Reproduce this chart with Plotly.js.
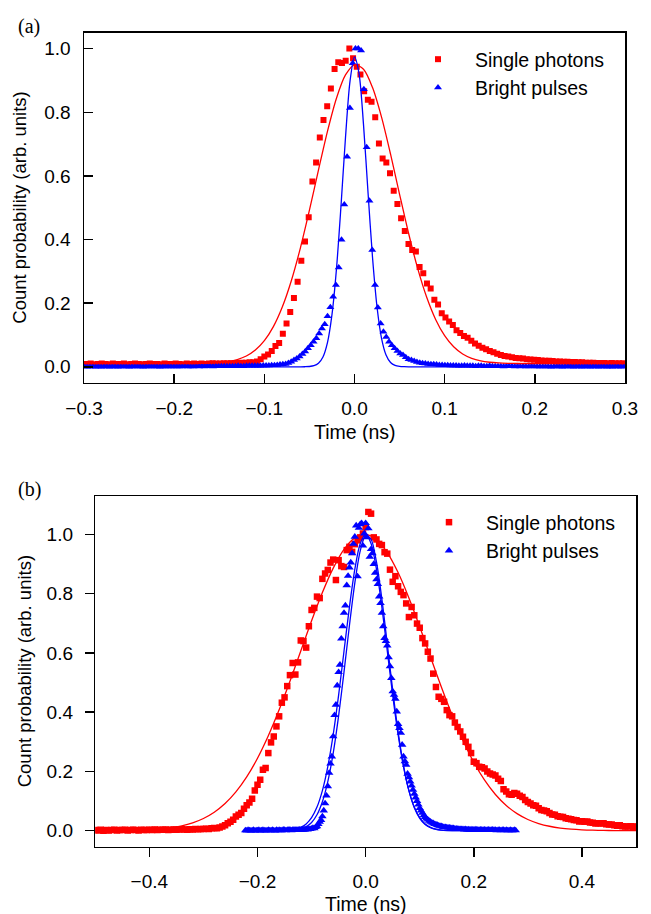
<!DOCTYPE html>
<html>
<head>
<meta charset="utf-8">
<script src="https://cdn.plot.ly/plotly-3.0.1.min.js"></script>
<style>html,body{margin:0;padding:0;background:#fff;}#chart{width:651px;height:914px;}</style>
</head>
<body>
<div id="chart"></div>
<script>
// ---------- Panel (a) ----------
// Single photons (red squares): uniform time bins
const RED_A_T0 = -0.2968, RED_A_DT = 0.0041;
const redA = [
0.009,0.010,0.008,0.009,0.010,0.009,0.008,0.010,0.009,0.009,
0.010,0.008,0.009,0.010,0.009,0.008,0.009,0.010,0.009,0.009,
0.008,0.010,0.009,0.009,0.010,0.009,0.008,0.010,0.009,0.010,
0.009,0.010,0.009,0.010,0.011,0.010,0.010,0.011,0.011,0.011,
0.012,0.012,0.013,0.013,0.014,
0.014,0.017,0.024,0.032,0.039,0.050,0.065,0.075,0.104,0.136,
0.172,0.216,0.267,0.333,0.394,0.470,0.582,0.642,0.721,0.776,
0.819,0.875,0.936,0.957,0.955,0.962,1.000,
0.970,0.943,0.919,0.866,0.839,0.833,0.784,0.702,0.655,0.642,
0.608,0.553,0.512,0.467,0.427,0.386,0.367,0.362,0.314,0.294,
0.262,0.246,0.211,0.196,0.168,0.155,0.142,0.131,0.115,0.106,
0.097,0.091,
0.082,0.073,0.066,0.060,0.055,0.050,0.046,0.041,0.037,0.034,
0.032,0.030,0.028,0.027,0.026,0.024,0.023,0.022,0.021,0.020,
0.019,0.019,0.018,0.017,0.017,0.016,0.016,0.015,0.015,0.014,
0.014,0.013,0.013,0.013,0.012,0.012,0.012,0.011,0.012,0.011,
0.011,0.011
];
// Bright pulses (blue triangles)
const BLUE_A_T0 = -0.2996, BLUE_A_DT = 0.0031;
const blueA = [
0.001,0.000,0.001,0.001,0.000,0.001,0.000,0.001,0.001,0.000,
0.001,0.001,0.000,0.001,0.001,0.001,0.000,0.001,0.001,0.001,
0.001,0.000,0.001,0.001,0.001,0.001,0.001,0.000,0.001,0.001,
0.001,0.001,0.001,0.001,0.001,0.001,0.002,0.001,0.001,0.001,
0.002,0.001,0.002,0.001,0.002,0.002,0.001,0.002,0.002,0.002,
0.002,0.002,0.002,0.002,0.002,0.003,0.002,0.002,0.003,0.003,
0.003,0.003,0.003,0.003,0.004,0.004,0.004,0.005,0.005,
0.006,0.007,0.008,0.009,0.012,0.016,0.021,0.026,0.032,0.040,
0.048,0.058,0.068,0.079,0.090,0.105,0.120,0.134,0.159,0.187,
0.220,0.257,0.312,0.399,0.510,0.660,0.813,0.954,1.000,1.000,
0.994,
0.872,0.690,0.522,0.367,0.257,0.186,0.136,0.110,0.094,0.079,
0.068,0.058,0.050,0.042,0.037,0.030,0.024,0.021,0.018,0.015,
0.013,0.011,0.010,0.009,0.008,0.008,0.007,0.006,0.006,0.005,
0.005,0.004,0.004,0.004,
0.003,0.003,0.004,0.003,0.003,0.003,0.002,0.003,0.003,0.002,
0.002,0.003,0.002,0.002,0.002,0.002,0.001,0.002,0.002,0.002,
0.001,0.002,0.001,0.002,0.001,0.001,0.002,0.001,0.001,0.001,
0.001,0.001,0.001,0.000,0.001,0.001,0.001,0.000,0.001,0.001,
0.001,0.000,0.001,0.001,0.000,0.001,0.001,0.000,0.001,0.001,
0.000,0.001,0.001,0.000,0.001,0.000,0.001,0.001,0.000,0.001
];
// Fit curves (a)
const fitRedA_t = [-0.30,-0.25,-0.20,-0.18,-0.17,-0.16,-0.15,-0.14,-0.13,-0.12,-0.11,-0.10,-0.09,-0.08,-0.07,-0.06,-0.05,-0.04,-0.03,-0.02,-0.01,0.00,0.01,0.02,0.03,0.04,0.05,0.06,0.07,0.08,0.09,0.10,0.11,0.12,0.13,0.14,0.15,0.16,0.17,0.18,0.20,0.25,0.30];
const fitRedA_v = [0.0100,0.0100,0.0100,0.0103,0.0106,0.0114,0.0131,0.0165,0.0227,0.0338,0.0525,0.0820,0.1263,0.1887,0.2713,0.3739,0.4921,0.6181,0.7400,0.8442,0.9172,0.9491,0.9353,0.8777,0.7846,0.6681,0.5422,0.4197,0.3101,0.2192,0.1489,0.0978,0.0628,0.0402,0.0265,0.0185,0.0142,0.0120,0.0109,0.0104,0.0100,0.0100,0.0100];
const fitBlueA_t = [-0.30,-0.10,-0.07,-0.06,-0.055,-0.05,-0.045,-0.04,-0.035,-0.03,-0.025,-0.02,-0.015,-0.01,-0.005,0.0,0.005,0.01,0.015,0.02,0.025,0.03,0.035,0.04,0.045,0.05,0.055,0.06,0.07,0.10,0.30];
const fitBlueA_v = [0,0,0,0.0000,0.0002,0.0009,0.0033,0.0108,0.0307,0.0760,0.1638,0.3078,0.5045,0.7205,0.8973,0.9743,0.9223,0.7612,0.5477,0.3435,0.1879,0.0896,0.0372,0.0135,0.0043,0.0012,0.0003,0.0000,0,0,0];

// ---------- Panel (b) ----------
const RED_B_T0 = -0.5, RED_B_DT = 0.005;
const redB = [
0.002,0.001,0.003,0.000,0.002,0.001,0.002,0.003,0.001,0.002,
0.002,0.003,0.001,0.002,0.003,0.002,0.001,0.003,0.002,0.002,
0.003,0.002,0.004,0.002,0.003,0.003,0.004,0.002,0.003,0.004,
0.003,0.004,0.005,0.004,0.003,0.005,0.004,0.006,0.005,0.006,
0.006,0.007,0.006,0.008,0.009,0.008,0.011,0.014,0.018,0.025,
0.030,0.037,0.048,0.054,0.060,0.074,0.086,0.095,0.108,0.136,
0.155,0.172,0.206,0.212,0.262,0.298,0.318,0.352,0.386,0.432,
0.450,0.488,0.525,0.566,0.527,0.568,0.642,0.640,0.618,0.690,
0.745,0.752,0.790,0.785,0.850,0.868,0.880,0.905,0.915,0.846,
0.913,0.893,0.890,0.947,0.958,0.941,0.967,0.980,0.990,1.003,
1.025,1.076,1.070,0.990,0.983,0.968,0.964,0.940,0.935,0.881,
0.840,0.859,0.825,0.806,0.795,0.767,0.721,0.755,0.727,0.699,
0.685,0.650,0.632,0.604,0.581,0.530,0.485,0.452,0.445,0.435,
0.407,0.390,0.386,0.365,0.350,0.335,0.317,0.300,0.283,0.262,
0.233,0.228,0.216,0.214,0.210,0.200,0.193,0.190,0.186,0.175,
0.168,0.140,0.132,0.123,0.121,0.127,0.125,0.118,0.114,0.104,
0.097,0.092,0.086,0.084,0.076,0.070,0.068,0.066,0.060,0.055,
0.054,0.049,0.047,0.046,0.042,0.040,0.039,0.036,0.035,0.031,
0.032,0.030,0.031,0.028,0.027,0.024,0.025,0.024,0.025,0.022,
0.021,0.021,0.018,0.017,0.018,0.015,0.014,0.014,0.015,0.013,
0.014
];
const BLUE_B_T0 = -0.2225, BLUE_B_DT = 0.0025;
const blueB = [
0.001,0.000,0.002,0.001,0.000,0.001,0.002,0.000,0.001,0.001,
0.002,0.000,0.001,0.002,0.001,0.000,0.001,0.002,0.001,0.001,
0.002,0.001,0.000,0.002,0.001,0.002,0.001,0.001,0.003,0.002,
0.001,0.002,0.002,0.003,0.001,0.002,0.003,0.002,0.002,0.003,
0.003,0.002,0.004,0.003,0.004,0.005,0.004,0.006,0.005,0.007,
0.009,0.008,0.012,0.015,0.022,0.030,0.036,0.048,0.068,0.092,
0.118,0.150,0.195,0.226,0.250,0.318,0.390,0.425,0.490,0.535,
0.560,0.648,0.690,0.735,0.760,0.828,0.860,0.888,0.905,0.936,
0.968,0.992,1.030,0.858,1.022,1.034,1.038,0.962,1.003,1.038,
0.990,1.020,0.924,0.950,0.936,0.900,0.870,0.848,0.832,0.790,
0.768,0.735,0.690,0.650,0.640,0.625,0.585,0.555,0.515,0.470,
0.458,0.445,0.402,0.360,0.346,0.330,0.290,0.250,0.234,0.222,
0.192,0.180,0.166,0.152,0.138,0.124,0.112,0.100,0.088,0.076,
0.068,0.060,0.052,0.046,0.041,0.037,0.033,0.030,0.027,0.025,
0.022,0.021,0.019,0.017,0.016,0.015,0.013,0.012,0.012,0.011,
0.010,0.010,0.009,0.008,0.008,0.007,0.007,0.006,0.006,0.005,0.005,
0.005,0.004,0.005,0.004,0.004,0.003,0.004,0.003,0.003,0.004,
0.003,0.003,0.002,0.003,0.003,0.002,0.003,0.002,0.002,0.003,
0.002,0.002,0.003,0.002,0.002,0.001,0.002,0.002,0.001,0.002,
0.002,0.001,0.002,0.001,0.001,0.002,0.001,0.001,0.002,0.001
];
// Fit curves (b)
const FIT_RED_B_T0 = -0.5, FIT_RED_B_DT = 0.02;
const fitRedB = [0.0001,0.0003,0.0005,0.0010,0.0019,0.0034,0.0059,0.0100,0.0165,0.0265,
0.0412,0.0623,0.0916,0.1308,0.1815,0.2447,0.3206,0.4081,0.5047,0.6066,
0.7084,0.8037,0.8862,0.9495,0.9884,0.9999,0.9828,0.9386,0.8711,0.7855,
0.6883,0.5860,0.4848,0.3897,0.3044,0.2310,0.1704,0.1221,0.0850,0.0575,
0.0378,0.0242,0.0150,0.0090,0.0053,0.0030,0.0017,0.0009,0.0005,0.0002,0.0001];
const FIT_BLUE_B_T0 = -0.22, FIT_BLUE_B_DT = 0.01;
const fitBlueB1 = [0,0,0,0,0,0.0001,0.0003,0.0009,0.0022,0.0051,
0.0111,0.0228,0.0439,0.0796,0.1353,0.2163,0.3247,0.4578,0.6065,0.7548,
0.8825,0.9692,1.0000,0.9692,0.8825,0.7548,0.6065,0.4578,0.3247,0.2163,
0.1353,0.0796,0.0439,0.0228,0.0111,0.0051,0.0022,0.0009,0.0003,0.0001,
0,0,0,0,0,0,0,0,0,0,0];
const fitBlueB2 = [0,0,0,0,0,0.0000,0.0001,0.0004,0.0010,0.0026,
0.0061,0.0135,0.0279,0.0540,0.0979,0.1657,0.2621,0.3877,0.5360,0.6926,
0.8366,0.9446,0.9970,0.9836,0.9071,0.7820,0.6301,0.4747,0.3342,0.2200,
0.1353,0.0778,0.0418,0.0210,0.0099,0.0043,0.0018,0.0007,0.0002,0.0001,
0,0,0,0,0,0,0,0,0,0,0];

const names = ['Single photons', 'Bright pulses'];
const RED = '#ff0000', BLUE = '#0000ff';

const traces = [
  {type:'scatter', mode:'markers', x0:RED_A_T0, dx:RED_A_DT, y:redA, xaxis:'x', yaxis:'y', name:names[0], legend:'legend',
   marker:{symbol:'square', size:6, color:RED, line:{width:0}}},
  {type:'scatter', mode:'markers', x0:BLUE_A_T0, dx:BLUE_A_DT, y:blueA, xaxis:'x', yaxis:'y', name:names[1], legend:'legend',
   marker:{symbol:'triangle-up', size:7, color:BLUE, line:{width:0}}},
  {type:'scatter', mode:'lines', x:fitRedA_t, y:fitRedA_v, xaxis:'x', yaxis:'y', showlegend:false,
   line:{color:RED, width:1.3, shape:'spline', smoothing:0.8}},
  {type:'scatter', mode:'lines', x:fitBlueA_t, y:fitBlueA_v, xaxis:'x', yaxis:'y', showlegend:false,
   line:{color:BLUE, width:1.3, shape:'spline', smoothing:0.8}},

  {type:'scatter', mode:'markers', x0:RED_B_T0, dx:RED_B_DT, y:redB, xaxis:'x2', yaxis:'y2', name:names[0], legend:'legend2',
   marker:{symbol:'square', size:6.5, color:RED, line:{width:0}}},
  {type:'scatter', mode:'lines', x0:FIT_RED_B_T0, dx:FIT_RED_B_DT, y:fitRedB, xaxis:'x2', yaxis:'y2', showlegend:false,
   line:{color:RED, width:1.3, shape:'spline', smoothing:0.8}},
  {type:'scatter', mode:'markers', x0:BLUE_B_T0, dx:BLUE_B_DT, y:blueB, xaxis:'x2', yaxis:'y2', name:names[1], legend:'legend2',
   marker:{symbol:'triangle-up', size:7.5, color:BLUE, line:{width:0}}},
  {type:'scatter', mode:'lines', x0:FIT_BLUE_B_T0, dx:FIT_BLUE_B_DT, y:fitBlueB1, xaxis:'x2', yaxis:'y2', showlegend:false,
   line:{color:BLUE, width:1.3, shape:'spline', smoothing:0.8}},
  {type:'scatter', mode:'lines', x0:FIT_BLUE_B_T0, dx:FIT_BLUE_B_DT, y:fitBlueB2, xaxis:'x2', yaxis:'y2', showlegend:false,
   line:{color:BLUE, width:1.3, shape:'spline', smoothing:0.8}}
];

const W = 651, H = 914;
const FONT = 'Liberation Sans, Arial, Helvetica, sans-serif';
function ax(extra) {
  return Object.assign({
    showline:true, linecolor:'#000', linewidth:1.5, mirror:true,
    showgrid:false, zeroline:false, tickcolor:'#000', tickwidth:1.5, ticklen:9,
    tickformat:'.1f', tick0:0, ticklabelstandoff:8,
    tickfont:{family:FONT, size:19, color:'#000'}
  }, extra);
}
const layout = {
  width:W, height:H, margin:{l:0,r:0,t:0,b:0},
  paper_bgcolor:'#fff', plot_bgcolor:'#fff',
  font:{family:FONT, size:19, color:'#000'},
  xaxis: ax({domain:[84/W, 625/W], anchor:'y', range:[-0.3001,0.3001], dtick:0.1, ticks:'inside'}),
  yaxis: ax({domain:[1-382.7/H, 1-32.7/H], anchor:'x', range:[-0.05,1.05], dtick:0.2, ticks:'inside'}),
  xaxis2: ax({domain:[95.3/W, 636/W], anchor:'y2', range:[-0.5,0.5], dtick:0.2, ticks:'outside'}),
  yaxis2: ax({domain:[1-846.7/H, 1-496/H], anchor:'x2', range:[-0.054,1.1296], dtick:0.2, ticks:'outside'}),
  legend: {x:401/W, xanchor:'left', y:1-40/H, yanchor:'top', itemwidth:64, bgcolor:'rgba(0,0,0,0)', borderwidth:0,
           font:{family:FONT, size:19.5, color:'#000'}},
  legend2: {x:412/W, xanchor:'left', y:1-503/H, yanchor:'top', itemwidth:64, bgcolor:'rgba(0,0,0,0)', borderwidth:0,
           font:{family:FONT, size:19.5, color:'#000'}},
  annotations: [
    {text:'(a)', xref:'paper', yref:'paper', x:29/W, y:1-26/H, xanchor:'center', yanchor:'middle', showarrow:false,
     font:{family:'Liberation Serif, DejaVu Serif, serif', size:20, color:'#000'}},
    {text:'(b)', xref:'paper', yref:'paper', x:29/W, y:1-489/H, xanchor:'center', yanchor:'middle', showarrow:false,
     font:{family:'Liberation Serif, DejaVu Serif, serif', size:20, color:'#000'}},
    {text:'Time (ns)', xref:'paper', yref:'paper', x:354.5/W, y:1-431.7/H, xanchor:'center', yanchor:'middle', showarrow:false,
     font:{family:FONT, size:19.5, color:'#000'}},
    {text:'Time (ns)', xref:'paper', yref:'paper', x:365.7/W, y:1-903.5/H, xanchor:'center', yanchor:'middle', showarrow:false,
     font:{family:FONT, size:19.5, color:'#000'}},
    {text:'Count probability (arb. units)', xref:'paper', yref:'paper', x:20/W, y:1-207.7/H, xanchor:'center', yanchor:'middle',
     textangle:-90, showarrow:false, font:{family:FONT, size:18.5, color:'#000'}},
    {text:'Count probability (arb. units)', xref:'paper', yref:'paper', x:24/W, y:1-671.3/H, xanchor:'center', yanchor:'middle',
     textangle:-90, showarrow:false, font:{family:FONT, size:18.5, color:'#000'}}
  ]
};
Plotly.newPlot('chart', traces, layout, {staticPlot:true, displayModeBar:false});
</script>
</body>
</html>
